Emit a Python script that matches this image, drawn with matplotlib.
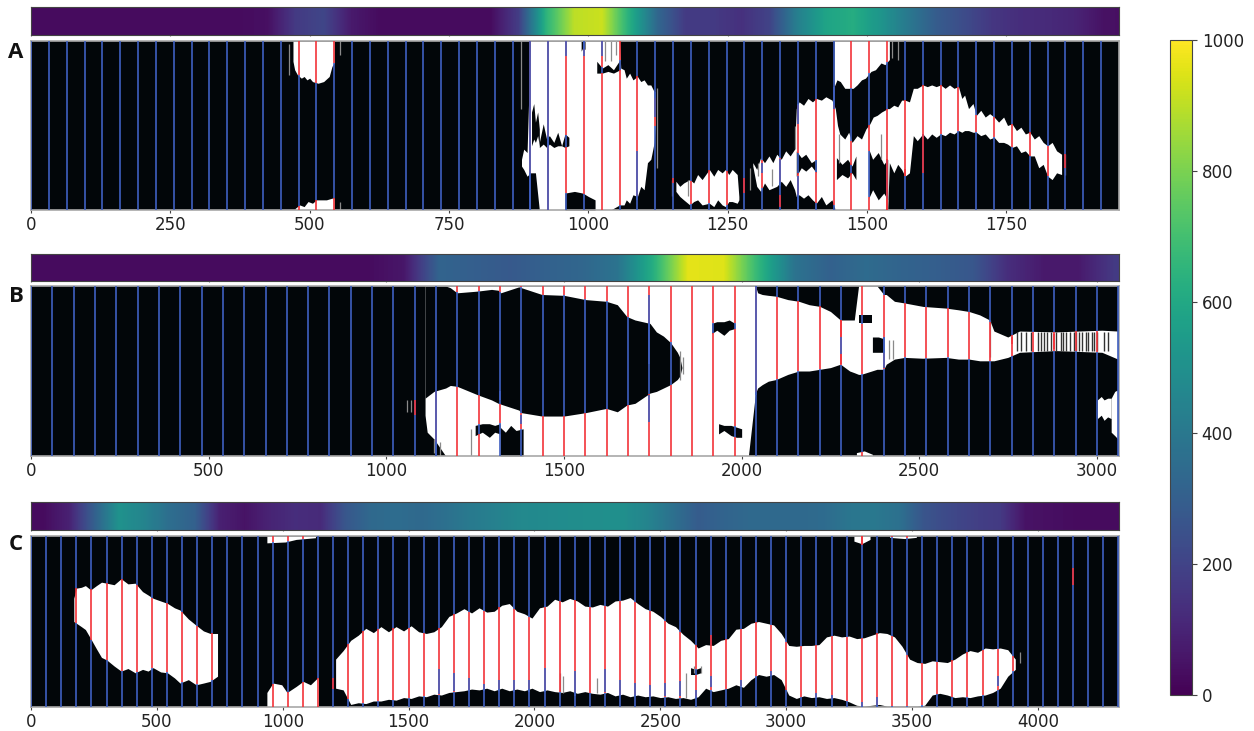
import numpy as np
import matplotlib
matplotlib.use('Agg')
import matplotlib.pyplot as plt
from matplotlib.cm import ScalarMappable
from matplotlib.colors import Normalize

# coverage strips, one value per bin
strip_a = [30, 30, 30, 30, 30, 30, 30, 30, 40, 170, 210, 70, 30, 30, 30, 30, 30, 180, 650, 900, 920, 620,
           330, 170, 170, 140, 200, 430, 580, 620, 520, 400, 290, 230, 160, 130, 120, 100, 45, 40]
strip_b = [30, 30, 30, 30, 30, 30, 30, 30, 30, 30, 60, 320, 300, 280, 310, 330, 380, 620, 960, 950, 650,
           380, 310, 350, 320, 300, 270, 130, 70, 70, 170]
strip_c = [30, 90, 300, 510, 450, 360, 310, 90, 50, 100, 130, 120, 270, 340, 355, 340, 370, 410, 440, 470,
           480, 490, 495, 500, 450, 370, 290, 320, 340, 340, 340, 350, 390, 400, 370, 260, 220, 190, 170,
           50, 40, 30, 30, 30]

# white regions: x, upper edge, lower edge (0-100 of the panel height)
a_white = [
    ([470, 473, 478, 485, 490, 495, 500, 505, 515, 525, 535, 540, 544],
     [100, 100, 100, 100, 100, 100, 100, 100, 100, 100, 100, 100, 100],
     [88, 83, 80, 78, 79, 77, 78, 76, 75, 76, 79, 85, 87]),
    ([474, 482, 490, 497, 505, 512, 520, 530, 540, 544],
     [1, 3, 2, 5, 4, 6, 6, 6, 7, 7],
     [0, 0, 0, 0, 0, 0, 0, 0, 0, 0]),
    ([880, 884, 890, 896, 905, 912, 930, 960, 980, 1000, 1020, 1040, 1056, 1058, 1064, 1068, 1074, 1080, 1088,
      1094, 1100, 1106, 1112, 1118, 1120],
     [30, 36, 34, 100, 100, 100, 100, 100, 100, 100, 100, 100, 100, 84, 83, 78, 81, 77, 79, 76, 77, 74, 74, 70, 66],
     [26, 24, 20, 22, 22, 0, 0, 0, 0, 0, 0, 0, 3, 3, 3, 6, 4, 9, 8, 14, 12, 28, 30, 40, 50]),
    ([1441, 1446, 1452, 1460, 1468, 1475, 1482, 1490, 1497, 1507, 1515, 1525, 1532, 1540],
     [100, 100, 100, 100, 100, 100, 100, 100, 100, 100, 100, 100, 100, 100],
     [73, 77, 76, 72, 72, 72, 74, 77, 78, 82, 83, 87, 86, 89]),
    ([1157, 1164, 1171, 1182, 1189, 1196, 1204, 1217, 1225, 1232, 1240, 1246, 1252, 1258, 1267, 1270],
     [17, 14, 16, 18, 16, 21, 18, 24, 20, 24, 22, 24, 21, 24, 21, 8],
     [11, 8, 6, 3, 5, 6, 3, 4, 2, 6, 3, 2, 5, 5, 4, 6]),
    ([1295, 1302, 1309, 1316, 1324, 1331, 1338, 1346, 1354, 1362, 1370, 1373, 1378, 1386, 1394, 1402, 1409, 1418,
      1426, 1437, 1443, 1447, 1451, 1460, 1467, 1473, 1482, 1490, 1498, 1505, 1511, 1518, 1526, 1537, 1540, 1548,
      1555, 1562, 1568, 1576, 1583, 1590, 1600, 1608, 1616, 1624, 1632, 1640, 1648, 1656, 1664, 1670, 1675, 1682,
      1690, 1696, 1704, 1712, 1720, 1728, 1736, 1745, 1752, 1760, 1768, 1776, 1784, 1792, 1800, 1808, 1816, 1824,
      1832, 1840, 1849],
     [28, 24, 31, 28, 32, 28, 33, 30, 35, 32, 36, 60, 64, 62, 66, 64, 66, 65, 67, 65, 60, 50, 45, 42, 46, 40, 44,
      42, 48, 51, 55, 56, 58, 60, 60, 62, 61, 65, 65, 64, 72, 72, 74, 73, 74, 73, 74, 72, 74, 72, 73, 66, 68, 60,
      63, 56, 59, 55, 57, 55, 52, 55, 50, 51, 47, 49, 45, 46, 42, 44, 40, 38, 40, 35, 33],
     [26, 14, 11, 16, 12, 13, 14, 17, 14, 18, 12, 8, 9, 7, 9, 6, 4, 8, 3, 6, 0, 0, 0, 0, 0, 0, 0, 0, 0, 0, 0, 0, 0,
      0, 28, 22, 27, 24, 20, 22, 44, 41, 45, 42, 45, 43, 45, 44, 46, 45, 47, 46, 47, 47, 46, 46, 44, 45, 42, 43,
      40, 40, 39, 37, 38, 34, 35, 32, 32, 25, 27, 20, 18, 22, 21]),
]
a_black = [
    ([958, 975, 990, 1000, 1012], [10, 11, 10, 8, 6], [0, 0, 0, 0, 0]),
    ([898, 902, 905, 909, 912], [58, 63, 52, 58, 48], [38, 42, 40, 44, 38]),
    ([912, 919, 925, 930, 938, 945, 952, 958, 965], [40, 51, 42, 44, 40, 46, 38, 45, 43],
     [37, 39, 37, 39, 37, 38, 38, 37, 38]),
    ([987, 990, 994], [100, 100, 100], [94, 96, 95]),
    ([1015, 1025, 1035, 1045, 1057], [88, 84, 86, 83, 89], [81, 81, 82, 81, 83]),
    ([1373, 1382, 1390, 1400, 1409], [35, 31, 33, 28, 30], [20, 25, 23, 26, 22]),
    ([1445, 1455, 1465, 1473, 1480], [31, 27, 30, 26, 32], [18, 21, 19, 22, 18]),
    ([1503, 1510, 1520, 1530, 1537], [36, 30, 34, 27, 30], [7, 12, 6, 10, 6]),
]
b_white = [
    ([1109, 1115, 1134, 1167, 2019, 2039, 2045, 2058, 2075, 2097, 2130, 2161, 2190, 2220, 2250, 2278, 2304, 2317,
      2329, 2336, 2381, 2400, 2407, 2430, 2459, 2510, 2575, 2610, 2640, 2670, 2698, 2710, 2749, 2782, 2885, 3014,
      3059],
     [100, 100, 100, 100, 100, 100, 96, 95, 94.5, 94, 92, 91, 89, 88, 85, 80, 80, 80, 100, 100, 100, 95, 95, 91, 90,
      88, 87, 86, 85, 83, 80, 73.5, 70, 73.5, 73, 74, 73.5],
     [24, 14, 10, 0, 0, 37, 40, 42, 44, 45, 48, 50, 50, 51, 52, 54, 50, 49, 48, 48, 51, 51, 54, 57, 58, 57.5, 58, 57,
      57, 56, 56, 56, 58, 61, 62, 61, 57]),
    ([3001, 3012, 3020, 3030, 3040], [33, 35, 33, 34, 34], [22, 24, 21, 23, 22]),
    ([3040, 3050, 3059], [34, 38, 39], [14, 12, 10]),
    ([2323, 2345, 2368], [2, 3, 1], [0, 0, 0]),
]
b_black = [
    ([1109, 1134, 1167, 1180, 1199, 1257, 1296, 1315, 1322, 1373, 1380, 1438, 1500, 1561, 1619, 1650, 1677, 1700,
      1742, 1760, 1780, 1800, 1819, 1826, 1832],
     [100, 100, 100, 99, 96, 97, 98, 97.5, 96, 99.5, 99, 95, 94.5, 92, 91, 89, 82, 80, 78, 73, 70.5, 66.7, 61, 58,
      52],
     [34, 38, 40, 41.5, 41, 36, 33, 31, 30.5, 27, 25.5, 23.5, 23.5, 25.5, 28, 26, 30, 31, 37, 38, 40, 42, 45, 47, 52]),
    ([1916, 1930, 1950, 1965, 1981], [78, 79, 79, 80, 78], [72, 74, 71, 74, 75]),
    ([1935, 1950, 1970, 1985, 2000], [19, 18, 18, 17, 16], [13, 15, 12, 11, 11]),
    ([1250, 1270, 1290, 1305, 1320], [18, 19, 19, 18, 19], [12, 14, 11, 14, 13]),
    ([1320, 1335, 1350, 1365, 1385], [17, 14, 18, 15, 16], [0, 0, 0, 0, 0]),
    ([2329, 2350, 2368], [83, 83, 83], [78, 78, 78]),
    ([2368, 2385, 2400], [70, 70, 69], [61, 61, 61]),
]
c_white = [
    ([170, 180, 200, 216, 237, 260, 280, 301, 330, 358, 385, 414, 443, 465, 485, 515, 542, 570, 592, 625, 656,
      685, 712, 741],
     [63.6, 69.5, 70, 71, 68.5, 71, 73, 72.4, 71.5, 75, 72, 72.4, 67.5, 65.5, 63.6, 62, 60.6, 58, 56.7, 51.5,
      47.8, 44.5, 43, 43],
     [50, 49, 47, 45.3, 40, 34, 29, 27.5, 24, 21, 22.5, 20, 22, 21, 23, 20.5, 20, 17, 14, 16, 13, 14, 15, 18]),
    ([937, 961, 996, 1017, 1053, 1081, 1110, 1138, 1142],
     [8.5, 14, 13, 8.5, 12, 15, 13, 17, 17],
     [0, 0, 0, 0, 0, 0, 0, 0, 0]),
    ([937, 1010, 1053, 1130], [100, 100, 100, 100], [96, 96.5, 98, 99]),
    ([3269, 3300, 3333], [100, 100, 100], [97, 95.5, 98]),
    ([3411, 3470, 3517], [100, 100, 100], [99.2, 98.5, 99.2]),
    ([1210, 1240, 1270, 1300, 1330, 1360, 1390, 1420, 1450, 1480, 1510, 1540, 1570, 1600, 1630, 1660, 1690, 1720,
      1750, 1780, 1810, 1840, 1870, 1900, 1930, 1960, 1990, 2020, 2050, 2080, 2110, 2140, 2170, 2200, 2230, 2260,
      2290, 2320, 2350, 2380, 2410, 2440, 2470, 2500, 2530, 2560, 2590, 2620, 2650, 2680, 2710, 2740, 2770, 2800,
      2830, 2860, 2890, 2920, 2950, 2980, 3010, 3040, 3070, 3100, 3130, 3160, 3190, 3220, 3250, 3280, 3310, 3340,
      3370, 3400, 3430, 3460, 3490, 3520, 3550, 3580, 3610, 3640, 3670, 3700, 3730, 3760, 3790, 3820, 3850, 3880,
      3910],
     [28, 33, 39, 42, 46, 43.5, 47, 44, 47, 44.5, 47.5, 44, 43, 44, 47, 53, 55, 57.5, 55, 58, 55.5, 56, 59.5, 60.5,
      56, 54.5, 52, 58, 59, 63, 61.5, 63.5, 62, 59, 58.5, 60, 59, 62, 62.5, 64, 60.5, 57.5, 56, 53, 49, 47, 42.5,
      39, 34.5, 36.5, 36, 39, 40, 45.5, 46, 49, 50, 49, 48, 43, 36, 35.5, 36, 36, 36.5, 41, 42, 41, 41.5, 40, 40.5,
      42, 43.5, 43, 41, 35.5, 28, 26, 25.5, 27, 26.5, 26, 28, 31, 33, 32, 34.5, 34, 34.5, 33.5, 28],
     [11, 10, 1.5, 2.5, 2, 3.5, 3.5, 4.5, 4, 5.5, 5, 6.5, 6, 7.5, 7, 8.5, 9, 9.5, 10.5, 10, 11, 9.5, 11, 9.5, 10.5,
      9.5, 11, 9, 10, 9, 8.5, 9.5, 8, 9, 8, 7.5, 8.5, 6.5, 7.5, 6, 7, 6, 6.5, 5.5, 6, 5, 5.5, 4.5, 6, 11, 9, 10, 11,
      13, 11.5, 16, 19, 18, 19, 16, 7, 5, 6.5, 5.5, 6, 5, 5.5, 4.5, 3, 1, 0.5, 1, 1.5, 0.5, 0.5, 0.5, 0.5, 0.5, 1,
      7, 8, 7, 5.5, 6, 5.5, 6.5, 7, 8.5, 11, 18, 22]),
]
c_black = [
    ([2620, 2640, 2660], [23, 22, 23], [19, 19, 20]),
]

# short extra segments: x, from, to
a_grey = [(462, 80, 98), (555, 92, 100), (555, 0, 5), (1030, 88, 100), (1040, 88, 100), (1050, 92, 100),
          (1123, 25, 72), (1545, 90, 100), (1555, 89, 100), (1150, 8, 18), (1178, 8, 18), (1305, 20, 28),
          (1290, 12, 25), (1855, 21, 33), (880, 60, 100), (1370, 36, 50), (1330, 14, 24), (1450, 28, 45),
          (1525, 30, 45)]
b_grey = [(1057, 26, 33), (1070, 26, 33), (1238, 0, 16), (2415, 57, 68), (2425, 57, 68), (2700, 58, 80),
          (1826, 45, 62), (1835, 48, 58), (1135, 2, 10), (1150, 0, 8)]
b_dark = [2775, 2785, 2800, 2815, 2835, 2842, 2850, 2858, 2872, 2885, 2898, 2905, 2912, 2925, 2935, 2942, 2950,
          2958, 2968, 2976, 2985, 2992, 3000, 3020, 3030]
c_grey = [(2100, 8, 20), (2115, 8, 18), (2250, 8, 17), (2600, 5, 20), (2635, 20, 24), (2660, 20, 24), (3930, 26, 32)]

a_red = [(1152, 16, 19), (1280, 10, 19), (1344, 2, 9), (1856, 25, 33), (1600, 22, 45), (1568, 20, 24), (1536, 0, 30)]
a_blue = [(928, 0, 100), (896, 0, 100), (960, 91, 100), (992, 91, 100), (1024, 91, 100), (1088, 6, 35), (1120, 55, 70),
          (1440, 60, 73), (1376, 51, 63), (1376, 0, 20), (1344, 14, 30), (1312, 22, 28)]
b_red = [(1080, 24, 33), (2280, 70, 80), (2280, 54, 60), (2760, 66, 70), (2880, 63, 72)]
b_blue = [(1140, 0, 38), (1320, 33, 38), (1380, 19, 24), (1740, 54, 95), (1740, 20, 36), (2040, 36, 100),
          (2280, 60, 70), (2400, 52, 70)]
c_red = [(1200, 10.5, 17), (4140, 71.5, 81), (2700, 36, 42), (3300, 95, 100)]
c_blue = [(1620, 7.5, 22), (1680, 9.5, 20), (1740, 9.5, 17), (1800, 9.5, 13.5), (1860, 9.5, 16), (1920, 8.5, 16),
          (1980, 8.5, 16), (2040, 8.5, 23), (2160, 6.5, 21), (2280, 8.5, 22), (2340, 6.5, 16), (2400, 6.5, 14),
          (2460, 6.5, 13), (2520, 6.5, 14), (2580, 6.5, 15), (2640, 5.5, 10), (2700, 11.5, 18), (2820, 12.5, 16),
          (2940, 18, 21), (3120, 6, 8), (3180, 5, 7), (3300, 0, 3), (3360, 0, 6), (3840, 12, 18)]

W, H = 1254, 731
LINE_BLUE = '#3f5fc0'
LINE_RED = '#f2333a'
EDGE = '#a8a8a8'
BLACK = '#020609'
LINE_W = 1.2


def px_axes(fig, x0, y0, x1, y1):
    return fig.add_axes([x0 / W, 1 - y1 / H, (x1 - x0) / W, (y1 - y0) / H])


def white_spans(x, white, black):
    """Runs of white along a vertical line at x"""
    v = np.arange(0, 100.01, 0.2)
    mask = np.zeros(v.size, dtype=bool)
    for xs, hi, lo in white:
        if xs[0] <= x <= xs[-1]:
            mask |= (v >= np.interp(x, xs, lo)) & (v <= np.interp(x, xs, hi))
    for xs, hi, lo in black:
        if xs[0] <= x <= xs[-1]:
            mask &= ~((v >= np.interp(x, xs, lo)) & (v <= np.interp(x, xs, hi)))
    edges = np.diff(mask.astype(int))
    starts = list(np.where(edges == 1)[0] + 1)
    stops = list(np.where(edges == -1)[0])
    if mask[0]:
        starts.insert(0, 0)
    if mask[-1]:
        stops.append(v.size - 1)
    return [(v[a], v[b]) for a, b in zip(starts, stops)]


def draw_panel(fig, strip_y, main_y, xmax, step, ticks, strip, bin_w, white, black, grey, dark, red, blue):
    strip_ax = px_axes(fig, 31, strip_y[0], 1119, strip_y[1])
    strip_ax.imshow([strip], aspect='auto', cmap='viridis', vmin=0, vmax=1000, interpolation='bilinear',
                    extent=[0, len(strip) * bin_w, 0, 1])
    strip_ax.set_xlim(0, xmax)
    strip_ax.set_yticks([])
    strip_ax.set_xticks(ticks)
    strip_ax.tick_params(axis='x', length=1, labelbottom=False, color='#777777')
    for s in strip_ax.spines.values():
        s.set_color('#444444')
        s.set_linewidth(0.8)

    ax = px_axes(fig, 31, main_y[0], 1119, main_y[1])
    ax.set_facecolor(BLACK)
    for xs, hi, lo in white:
        ax.fill_between(xs, lo, hi, color='white', lw=0, zorder=1)
    for xs, hi, lo in black:
        ax.fill_between(xs, lo, hi, color=BLACK, lw=0, zorder=2)
    for x, a, b in grey:
        ax.vlines(x, a, b, color='#8a8a8a', lw=0.9, zorder=2.5)
    for x in dark:
        ax.vlines(x, 62, 73, color='#333333', lw=1.0, zorder=2.5)

    for x in np.arange(0, xmax, step):
        prev = 0
        for a, b in white_spans(x, white, black):
            ax.vlines(x, a, b, color=LINE_RED, lw=LINE_W, zorder=3)
            if a > prev:
                ax.vlines(x, prev, a, color=LINE_BLUE, lw=LINE_W, zorder=3)
            prev = b
        if prev < 100:
            ax.vlines(x, prev, 100, color=LINE_BLUE, lw=LINE_W, zorder=3)
    for x, a, b in red:
        ax.vlines(x, a, b, color=LINE_RED, lw=LINE_W, zorder=3.4)
    for x, a, b in blue:
        ax.vlines(x, a, b, color=LINE_BLUE, lw=LINE_W, zorder=3.4)

    ax.set_xlim(0, xmax)
    ax.set_ylim(0, 100)
    ax.set_yticks([])
    ax.set_xticks(ticks)
    ax.tick_params(axis='x', labelsize=12, length=2.5, pad=2, color='#444444', labelcolor='#222222')
    for s in ax.spines.values():
        s.set_color(EDGE)
        s.set_linewidth(1.2)


def main():
    fig = plt.figure(figsize=(W / 100, H / 100), dpi=100)
    draw_panel(fig, (7, 35), (41, 210), 1952, 32, [0, 250, 500, 750, 1000, 1250, 1500, 1750], strip_a, 50,
               a_white, a_black, a_grey, [], a_red, a_blue)
    draw_panel(fig, (254, 281), (286, 456), 3062, 60, [0, 500, 1000, 1500, 2000, 2500, 3000], strip_b, 100,
               b_white, b_black, b_grey, b_dark, b_red, b_blue)
    draw_panel(fig, (502, 530), (536, 707), 4322, 60, [0, 500, 1000, 1500, 2000, 2500, 3000, 3500, 4000], strip_c, 100,
               c_white, c_black, c_grey, [], c_red, c_blue)

    for label, y in zip(['A', 'B', 'C'], [52, 296, 545]):
        fig.text(16 / W, 1 - y / H, label, fontsize=16, fontweight='bold', family='Open Sans',
                 ha='center', va='center', color='#111111')

    cax = px_axes(fig, 1170, 40, 1192, 695)
    cb = fig.colorbar(ScalarMappable(Normalize(0, 1000), 'viridis'), cax=cax)
    cb.set_ticks([0, 200, 400, 600, 800, 1000])
    cb.ax.tick_params(labelsize=12, length=3.5, color='#444444', labelcolor='#222222')
    cb.outline.set_edgecolor('#444444')

    fig.savefig('out.png', dpi=100)


if __name__ == "__main__":
    main()
